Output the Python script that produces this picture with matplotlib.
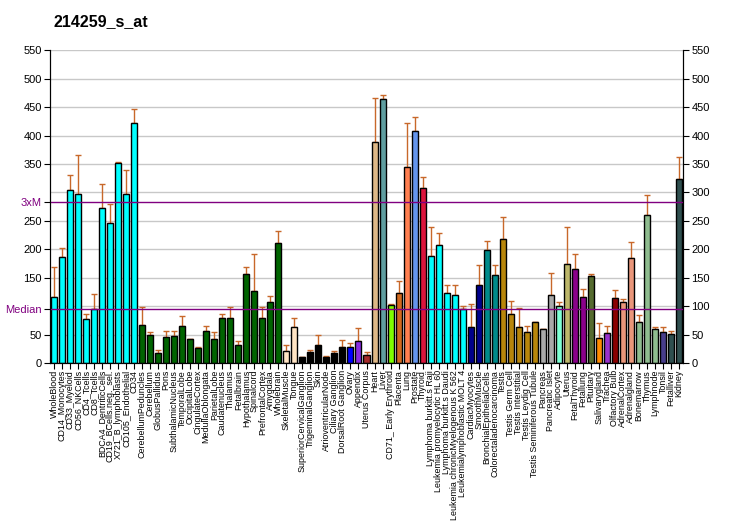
import numpy as np
import matplotlib
matplotlib.use("Agg")
import matplotlib.pyplot as plt

plt.rcParams['font.family'] = ['Liberation Sans', 'DejaVu Sans']

title = "214259_s_at"

labels = [
    "WholeBlood", "CD14_Monocytes", "CD33_Myeloid", "CD56_NKCells", "CD4_Tcells",
    "CD8_Tcells", "BDCA4_DentriticCells", "CD19_BCells.neg._sel.", "X721_B_lymphoblasts",
    "CD105_Endothelial", "CD34", "CerebellumPeduncles", "Cerebellum", "GlobusPallidus",
    "Pons", "SubthalamicNucleus", "TemporalLobe", "OccipitalLobe", "CingulateCortex",
    "MedullaOblongata", "ParietalLobe", "Caudatenucleus", "Thalamus", "Fetalbrain",
    "Hypothalamus", "Spinalcord", "PrefrontalCortex", "Amygdala", "Wholebrain",
    "SkeletalMuscle", "Tongue", "SuperiorCervicalGanglion", "TrigeminalGanglion", "Skin",
    "AtrioventricularNode", "Ciliary Ganglion", "DorsalRoot Ganglion", "Ovary", "Appendix",
    "Uterus Corpus", "Heart", "Liver", "CD71_ Early Erythroid", "Placenta", "Lung",
    "Prostate", "Thyroid", "Lymphoma burkitt.s Raji", "Leukemia promyelocytic HL 60",
    "Lymphoma burkitt.s Daudi", "Leukemia chronicMyelogenous K 562",
    "Leukemialymphoblastic MOLT 4", "CardiacMyocytes", "SmoothMuscle",
    "BronchialEpithelialCells", "Colorectaladenocarcinoma", "Testis", "Testis Germ Cell",
    "Testis Interstitial", "Testis Leydig Cell", "Testis Seminiferous Tubule", "Pancreas",
    "Pancreatic Islet", "Adipocyte", "Uterus", "FetalThyroid", "Fetallung", "Pituitary",
    "Salivarygland", "Trachea", "Olfactory Bulb", "AdrenalCortex", "Adrenalgland",
    "Bonemarrow", "Thymus", "Lymphnode", "Tonsil", "Fetalliver", "Kidney",
]

values = [
    115.5, 186, 304, 298, 77, 94.4, 272, 246, 352, 297, 423,
    66, 50, 17, 45, 47, 64.5, 42, 26, 57, 42, 78.6, 80, 31, 156, 126, 80, 107, 210.5,
    20.5, 63, 10.5, 19, 31, 10.5, 17, 27.5, 27.5, 38, 13.5, 388, 464, 101.4, 124, 344,
    407.5, 307, 187.6, 207, 122.5, 119, 94.4, 62.7, 136.6, 198, 154, 217.5, 85.6, 62.7,
    54, 71.5, 59, 119, 99.7, 175, 165, 115.5, 152.4, 43.4, 52, 113.7, 106.7, 184, 71.5,
    260, 59, 54, 50.4, 323,
]

err_top = [
    169, 203, 330, 365, 86, 121, 314, 279, 354, 339, 446,
    98, 55, 22, 57, 56, 82, 43, 27.5, 64.5, 54, 86, 98, 38, 168, 191, 98, 117, 231.6,
    31, 78.6, 10.5, 22, 50, 12, 20.5, 40, 34.6, 61, 19, 465.5, 471, 103, 143.6, 423,
    432, 328, 240, 228, 136.6, 136.6, 99.7, 103, 172, 214, 172, 256, 108.5, 96,
    64.5, 71.5, 59, 157.7, 106.7, 238.6, 191, 131, 156, 69.8, 64.5, 127.8, 112, 212, 84,
    295, 62.7, 62.7, 55.7, 362,
]

colors = (
    ["#00FFFF"] * 11 + ["#006400"] * 18 + ["#FFE4C4"] * 2 + ["#000000"] * 6
    + ["#0000FF", "#8A2BE2", "#A52A2A", "#DEB887", "#5F9EA0", "#7FFF00", "#D2691E",
       "#FF7F50", "#6495ED", "#DC143C"]
    + ["#00FFFF"] * 5 + ["#00008B"] * 2 + ["#008B8B"] * 2 + ["#B8860B"] * 5
    + ["#A9A9A9"] * 2 + ["#7FFFD4", "#BDB76B"] + ["#8B008B"] * 2
    + ["#556B2F", "#FF8C00", "#9932CC", "#8B0000"] + ["#E9967A"] * 2
    + ["#8FBC8F"] * 3 + ["#483D8B"] + ["#2F4F4F"] * 2
)

median = 94.2
ticks = list(range(0, 551, 50))

fig = plt.figure(figsize=(7.32, 5.30), dpi=100)
ax = fig.add_axes([50 / 732, 167 / 530, 633 / 732, 312.7 / 530])

x = np.arange(len(values))
vals = np.array(values)
yerr = np.array(err_top) - vals

for t in ticks:
    ax.axhline(t, color="#C8C8C8", lw=1, zorder=0)

ax.errorbar(x, vals, yerr=[np.zeros_like(yerr), yerr], fmt="none",
            ecolor="#C8682A", elinewidth=1, capsize=2.2, capthick=1, zorder=1)
ax.bar(x, vals, width=0.75, color=colors, edgecolor="black", linewidth=1, zorder=2)

ax.axhline(median, color="#800080", lw=1, zorder=3)
ax.axhline(3 * median, color="#800080", lw=1, zorder=3)

ax.set_xlim(-0.5, len(values) - 0.5)
ax.set_ylim(0, 550)

ax.set_xticks(x)
ax.set_xticklabels(labels, rotation=90, fontsize=6.4)
ax.tick_params(axis="x", length=4, pad=1)

left_ticks = [t for t in ticks if t not in (100, 300)] + [median, 3 * median]
left_labels = [str(t) for t in ticks if t not in (100, 300)] + ["Median", "3xM"]
ax.set_yticks(left_ticks)
ax.set_yticklabels(left_labels, fontsize=8)
for lab in ax.get_yticklabels()[-2:]:
    lab.set_color("#800080")
ax.tick_params(axis="y", length=4, pad=2)

ax2 = ax.twinx()
ax2.set_ylim(0, 550)
ax2.set_yticks(ticks)
ax2.set_yticklabels([str(t) for t in ticks], fontsize=8)
ax2.tick_params(axis="y", length=4, pad=2)

for a in (ax, ax2):
    a.spines["top"].set_visible(False)

fig.text(54 / 732, 1 - 22 / 530, title, fontsize=11.5, fontweight="bold", va="center")

fig.savefig("out.png", dpi=100)
